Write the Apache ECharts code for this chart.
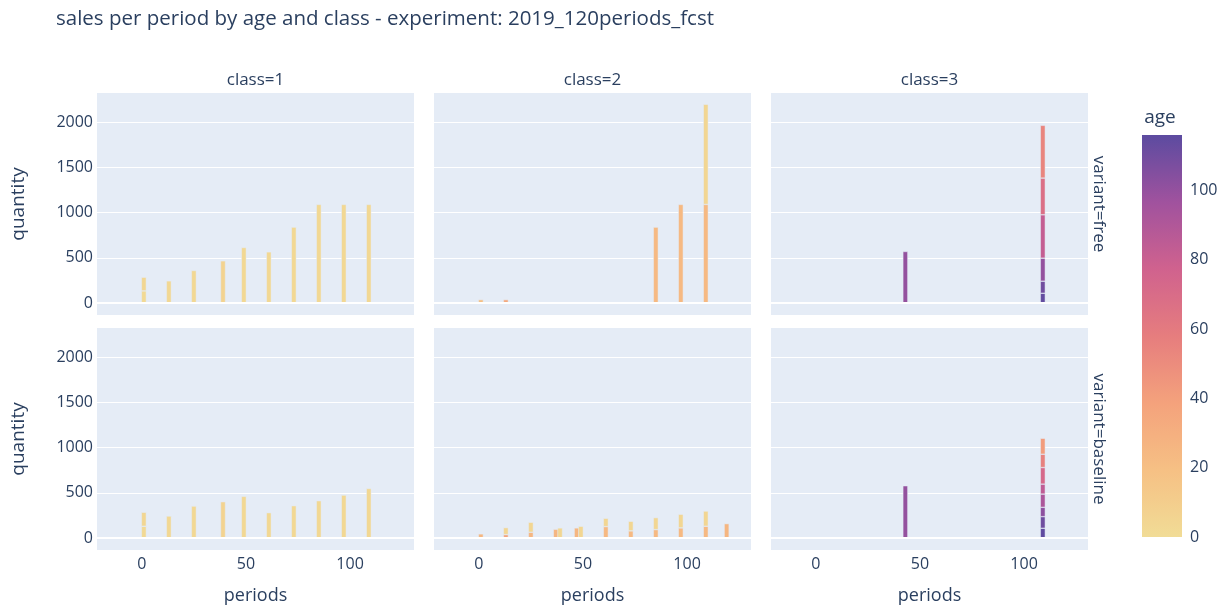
<!DOCTYPE html>
<html>
<head>
<meta charset="utf-8">
<title>sales per period by age and class</title>
<script src="https://cdn.jsdelivr.net/npm/echarts@6/dist/echarts.min.js"></script>
<style>
html, body { margin: 0; padding: 0; background: #fff; }
#chart { width: 1225px; height: 610px; }
</style>
</head>
<body>
<div id="chart"></div>
<script>
// periods on x; each bar is a stack of segments (bottom -> top), each segment has its own age
var class1Periods = [1, 13, 25, 39, 49, 61, 73, 85, 97, 109];
var free1Qty = [[136, 151], [247], [361], [468], [615], [567], [840], [1090], [1090], [1090]];
var free1Age = [[2, 4], [3], [3], [6], [3], [3], [3], [3], [3], [3]];
var base1Qty = [[132, 154], [245], [355], [403], [462], [282], [359], [414], [476], [549]];
var base1Age = [[2, 4], [3], [3], [6], [3], [3], [3], [3], [3], [3]];

var class2FreePeriods = [1, 13, 85, 97, 109];
var free2Qty = [[40], [40], [840], [1090], [1090, 1105]];
var free2Age = [[20], [34], [24], [24], [24, 4]];
var class2BasePeriods = [1, 13, 25, 37, 39, 47, 49, 61, 73, 85, 97, 109, 119];
var base2Qty = [[48], [40, 77], [66, 110], [99], [114], [114], [132], [128, 92], [81, 106], [95, 132], [114, 150], [132, 168], [161]];
var base2Age = [[26], [38, 4], [26, 4], [26], [4], [26], [4], [24, 4], [24, 4], [24, 4], [24, 4], [24, 4], [26]];

var class3Periods = [43, 109];
var free3Qty = [[571], [110, 133, 254, 479, 405, 582]];
var free3Age = [[100], [114, 110, 100, 82, 68, 54]];
var base3Qty = [[579], [110, 128, 103, 146, 110, 183, 147, 176]];
var base3Age = [[100], [115, 111, 102, 92, 84, 72, 56, 42]];

var classNames = ['class=1', 'class=2', 'class=3'];
var variantNames = ['variant=free', 'variant=baseline'];
var yTicks = [0, 500, 1000, 1500, 2000];
var xTicks = [0, 50, 100];
var ageTicks = [0, 20, 40, 60, 80, 100];
var ageMax = 116;
var ageColors = ['#f1dc96', '#f6c084', '#f4a27c', '#e67d7e', '#d0628e', '#a0529e', '#5c4ba0'];

var txt = '#2a3f5f';
var font = 'Open Sans';

// row-major: free row then baseline row
var panels = [
    { periods: class1Periods, qty: free1Qty, age: free1Age },
    { periods: class2FreePeriods, qty: free2Qty, age: free2Age },
    { periods: class3Periods, qty: free3Qty, age: free3Age },
    { periods: class1Periods, qty: base1Qty, age: base1Age },
    { periods: class2BasePeriods, qty: base2Qty, age: base2Age },
    { periods: class3Periods, qty: base3Qty, age: base3Age }
];

var colLeft = [97, 434, 771];
var rowTop = [93, 328];
var panelW = 317, panelH = 222;

function plain(v) { return String(v); }

var grids = [], xAxes = [], yAxes = [], series = [], barIdx = [];

panels.forEach(function (p, k) {
    var row = Math.floor(k / 3), col = k % 3;
    grids.push({
        left: colLeft[col], top: rowTop[row], width: panelW, height: panelH,
        show: true, backgroundColor: '#E5ECF6', borderWidth: 0
    });
    xAxes.push({
        gridIndex: k, type: 'value', min: -21.5, max: 130.7,
        axisLine: { show: false }, axisTick: { show: false, customValues: xTicks },
        splitLine: { show: false },
        axisLabel: { show: row == 1, customValues: xTicks, formatter: plain, margin: 6, fontSize: 16, color: txt, fontFamily: font },
        name: row == 1 ? 'periods' : '', nameLocation: 'middle', nameGap: 37,
        nameTextStyle: { fontSize: 18, color: txt, fontFamily: font }
    });
    yAxes.push({
        gridIndex: k, type: 'value', min: -130, max: 2320,
        axisLine: { show: false }, axisTick: { show: false, customValues: yTicks },
        splitLine: { show: true, lineStyle: { color: '#fff', width: 1 } },
        axisLabel: { show: col == 0, customValues: yTicks, formatter: plain, margin: 4, fontSize: 16, color: txt, fontFamily: font },
        name: col == 0 ? 'quantity' : '', nameLocation: 'middle', nameRotate: 90, nameGap: 69,
        nameTextStyle: { fontSize: 19, color: txt, fontFamily: font }
    });

    var layers = Math.max.apply(null, p.qty.map(function (s) { return s.length; }));
    for (var j = 0; j < layers; j++) {
        var s = {
            type: 'bar', xAxisIndex: k, yAxisIndex: k, stack: 'panel' + k, barWidth: 5,
            // quantity first so the stack is built on quantity, not on period
            encode: { x: 1, y: 0 },
            itemStyle: { borderColor: '#E5ECF6', borderWidth: 0.5 },
            data: p.periods.map(function (x, i) {
                var v = p.qty[i][j];
                return v === undefined ? ['-', x, 0] : [v, x, p.age[i][j]];
            })
        };
        if (j == 0) {
            // zero line
            s.markLine = {
                silent: true, symbol: 'none', label: { show: false },
                lineStyle: { color: '#fff', width: 2, type: 'solid' },
                data: [{ yAxis: 0 }]
            };
        }
        barIdx.push(series.length);
        series.push(s);
    }
});

// colour bar
grids.push({ left: 1142, top: 135, width: 40, height: 402 });
xAxes.push({ gridIndex: 6, type: 'category', data: ['age'], show: false });
yAxes.push({
    gridIndex: 6, type: 'value', min: 0, max: ageMax, position: 'right',
    axisLine: { show: false }, axisTick: { show: false, customValues: ageTicks }, splitLine: { show: false },
    axisLabel: { customValues: ageTicks, margin: 8, fontSize: 16, color: txt, fontFamily: font }
});
series.push({
    type: 'bar', xAxisIndex: 6, yAxisIndex: 6, barWidth: '100%', silent: true,
    itemStyle: {
        color: new echarts.graphic.LinearGradient(0, 1, 0, 0, ageColors.map(function (c, i) {
            return { offset: i / (ageColors.length - 1), color: c };
        }))
    },
    data: [ageMax]
});

var texts = [];
classNames.forEach(function (n, c) {
    texts.push({
        type: 'text', x: colLeft[c] + panelW / 2, y: 80,
        style: { text: n, fill: txt, font: '17px "Open Sans"', textAlign: 'center', textVerticalAlign: 'middle' }
    });
});
variantNames.forEach(function (n, r) {
    texts.push({
        type: 'text', x: 1099, y: rowTop[r] + panelH / 2, rotation: -Math.PI / 2,
        style: { text: n, fill: txt, font: '17px "Open Sans"', textAlign: 'center', textVerticalAlign: 'middle' }
    });
});
texts.push({
    type: 'text', x: 1160, y: 118,
    style: { text: 'age', fill: txt, font: '19px "Open Sans"', textAlign: 'center', textVerticalAlign: 'middle' }
});

var option = {
    backgroundColor: '#fff',
    animation: false,
    title: {
        text: 'sales per period by age and class - experiment: 2019_120periods_fcst',
        left: 56, top: 9, padding: 0,
        textStyle: { fontSize: 20.5, fontWeight: 'normal', color: txt, fontFamily: font }
    },
    grid: grids,
    xAxis: xAxes,
    yAxis: yAxes,
    visualMap: {
        type: 'continuous', show: false, min: 0, max: ageMax, dimension: 2,
        seriesIndex: barIdx, inRange: { color: ageColors }
    },
    graphic: texts,
    series: series
};

var chart = echarts.init(document.getElementById('chart'));
chart.setOption(option);
</script>
</body>
</html>
